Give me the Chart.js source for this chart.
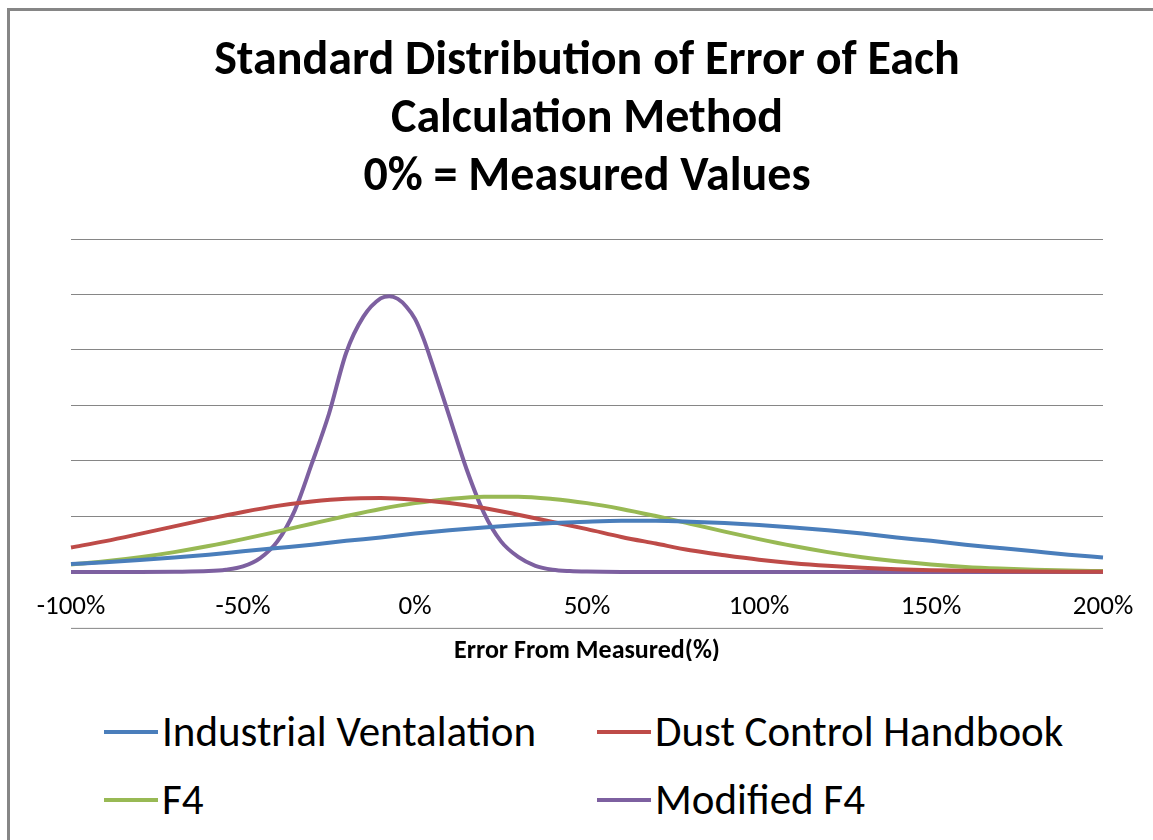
<!DOCTYPE html>
<html>
<head>
<meta charset="utf-8">
<script src="https://cdn.jsdelivr.net/npm/chart.js@4.4.0/dist/chart.umd.min.js"></script>
<style>
  html, body { margin: 0; padding: 0; background: #fff; }
  body { width: 1153px; height: 840px; overflow: hidden; position: relative; font-family: Carlito, Lato, sans-serif; }
  #frame { position: absolute; left: 7px; top: 8px; width: 1300px; height: 1000px; border: 3px solid #868686; box-sizing: border-box; }
  #wrap { position: absolute; left: 0; top: 0; width: 1153px; height: 661px; }
  #legend { position: absolute; left: 104px; top: 708px; display: grid; grid-template-columns: 493px auto; row-gap: 20px; }
  .item { display: flex; align-items: center; font-size: 43px; line-height: 48px; color: #000; white-space: nowrap; }
  .swatch { display: inline-block; width: 54px; height: 4px; margin-right: 4px; }
</style>
</head>
<body>
<div id="frame"></div>
<div id="wrap"><canvas id="chart"></canvas></div>
<div id="legend"></div>
<script>
(function () {
  'use strict';

  // ── Data ──────────────────────────────────────────────────────────────
  const titleLines = ['Standard Distribution of Error of Each', 'Calculation Method', '0% = Measured Values'];
  const xTitle     = 'Error From Measured(%)';
  const seriesNames  = ['Industrial Ventalation', 'Dust Control Handbook', 'F4', 'Modified F4'];
  const seriesColors = ['#4A7EBB', '#BE4B48', '#98B954', '#7D60A0'];

  // error (%) sampled every 10
  const errorSteps = [-100, -90, -80, -70, -60, -50, -40, -30, -20, -10, 0, 10, 20, 30, 40, 50,
                      60, 70, 80, 90, 100, 110, 120, 130, 140, 150, 160, 170, 180, 190, 200];
  const industrialVent = [0.14, 0.175, 0.215, 0.26, 0.31, 0.37, 0.43, 0.49, 0.56, 0.62, 0.69, 0.75, 0.80, 0.845, 0.88, 0.905,
                          0.92, 0.92, 0.905, 0.88, 0.845, 0.80, 0.75, 0.69, 0.62, 0.56, 0.49, 0.43, 0.37, 0.31, 0.26];
  const dustControl    = [0.44, 0.555, 0.685, 0.82, 0.955, 1.08, 1.19, 1.27, 1.32, 1.33, 1.30, 1.24, 1.15, 1.03, 0.90, 0.77,
                          0.63, 0.51, 0.39, 0.30, 0.22, 0.157, 0.109, 0.073, 0.048, 0.031, 0.019, 0.011, 0.007, 0.004, 0.002];
  const f4             = [0.133, 0.19, 0.264, 0.356, 0.465, 0.59, 0.726, 0.868, 1.006, 1.134, 1.239, 1.315, 1.355, 1.355, 1.315, 1.239,
                          1.134, 1.006, 0.868, 0.726, 0.59, 0.465, 0.356, 0.264, 0.19, 0.133, 0.09, 0.06, 0.038, 0.024, 0.014];

  // modified F4 is narrow, so it is read at finer steps round the peak
  const modSteps   = [-100, -90, -80, -70, -60, -55, -50, -45, -40, -35, -30, -25, -20, -15, -10, -7.5, -5, -2.5, 0, 2.5, 5,
                      10, 15, 20, 25, 30, 35, 40, 45, 50, 60, 80, 100, 120, 140, 160, 180, 200];
  const modifiedF4 = [0, 0, 0, 0.003, 0.015, 0.04, 0.1, 0.25, 0.55, 1.1, 1.95, 2.85, 3.95, 4.6, 4.93, 4.97, 4.92, 4.78, 4.56, 4.2, 3.75,
                      2.8, 1.85, 1.07, 0.55, 0.27, 0.11, 0.04, 0.015, 0.005, 0, 0, 0, 0, 0, 0, 0, 0];

  const yMax = 6;

  // ── Helpers ───────────────────────────────────────────────────────────
  const pts = (xs, ys) => xs.map((x, i) => ({ x, y: ys[i] }));
  const FONT = 'Carlito, Lato, sans-serif';
  const GRID = '#868686';

  const seriesData = [
    pts(errorSteps, industrialVent),
    pts(errorSteps, dustControl),
    pts(errorSteps, f4),
    pts(modSteps, modifiedF4),
  ];

  const datasets = seriesNames.map((name, i) => ({
    label: name,
    data: seriesData[i],
    borderColor: seriesColors[i],
    backgroundColor: seriesColors[i],
    borderWidth: 4,
    pointRadius: 0,
    cubicInterpolationMode: 'monotone',
    fill: false,
    clip: false,
  }));

  // thin rule under the tick labels, as in the original
  const labelRule = {
    id: 'labelRule',
    afterDraw(chart) {
      const { ctx, chartArea } = chart;
      const y = chart.scales.x.top + 56.5;
      ctx.save();
      ctx.strokeStyle = GRID;
      ctx.lineWidth = 1;
      ctx.beginPath();
      ctx.moveTo(chartArea.left, y);
      ctx.lineTo(chartArea.right, y);
      ctx.stroke();
      ctx.restore();
    },
  };

  new Chart(document.getElementById('chart'), {
    type: 'line',
    data: { datasets },
    plugins: [labelRule],
    options: {
      responsive: true,
      maintainAspectRatio: false,
      animation: false,
      layout: { padding: { left: 71, right: 50, top: 0, bottom: 0 } },
      plugins: {
        legend: { display: false },
        tooltip: { enabled: false },
        title: {
          display: true,
          text: titleLines,
          color: '#000',
          font: { family: FONT, size: 48, weight: 'bold', lineHeight: 58 / 48 },
          padding: { top: 33, bottom: 32 },
        },
      },
      scales: {
        x: {
          type: 'linear',
          position: 'bottom',
          min: -100, max: 200,
          border: { display: false },
          grid: { display: false, drawTicks: false },
          ticks: {
            stepSize: 50,
            color: '#000',
            padding: 19,
            font: { family: FONT, size: 27, lineHeight: 1.2 },
            callback: v => v + '%',
            maxRotation: 0,
          },
          title: {
            display: true,
            text: xTitle,
            color: '#000',
            font: { family: FONT, size: 26, weight: 'bold', lineHeight: 0.72 },
            padding: { top: 0, bottom: 0 },
          },
        },
        y: {
          min: 0, max: yMax,
          border: { display: false },
          grid: { color: GRID, lineWidth: 1, drawTicks: false },
          ticks: { display: false, stepSize: 1 },
        },
      },
    },
  });

  // ── Legend (two fixed columns, like the original) ─────────────────────
  document.getElementById('legend').innerHTML = seriesNames.map((name, i) =>
    `<div class="item"><span class="swatch" style="background:${seriesColors[i]}"></span>${name}</div>`
  ).join('');
})();
</script>
</body>
</html>
